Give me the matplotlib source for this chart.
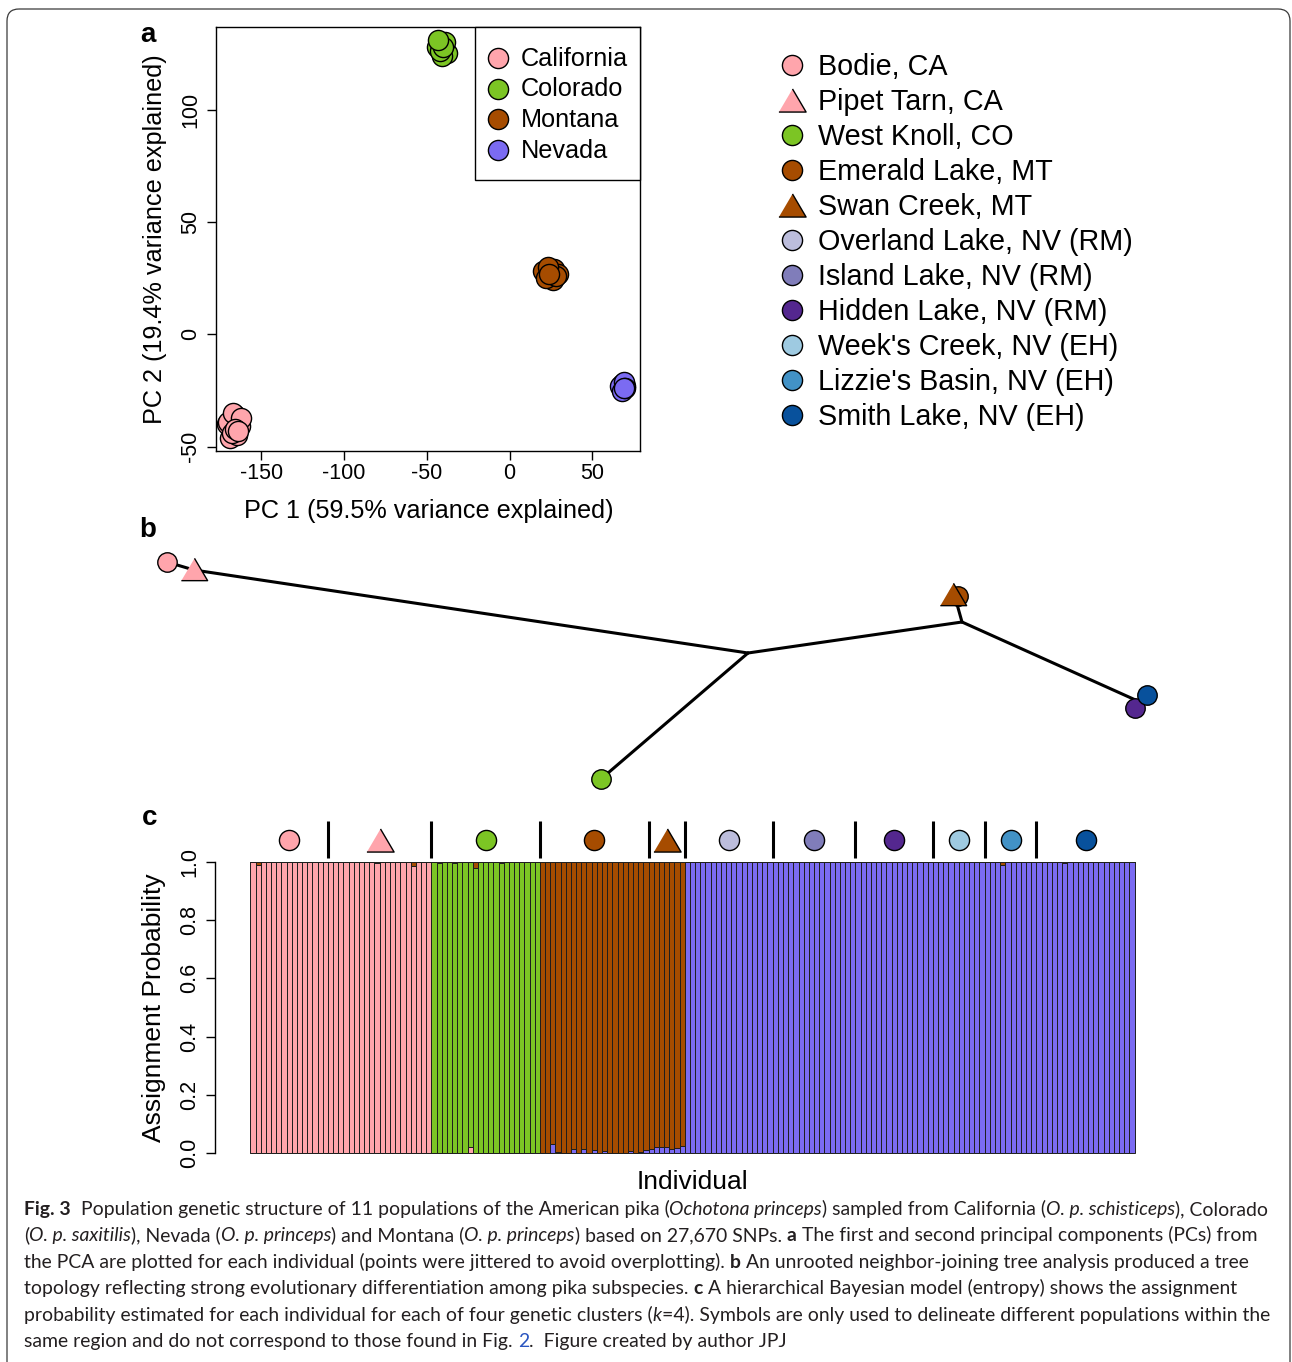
import matplotlib
matplotlib.use("Agg")
import matplotlib.pyplot as plt
from matplotlib.patches import FancyBboxPatch, Rectangle
from matplotlib.font_manager import FontProperties
import numpy as np

W, H = 1292, 1362
plt.rcParams['font.family'] = ['Liberation Sans', 'DejaVu Sans']
plt.rcParams['axes.unicode_minus'] = False

# ---------------- data ----------------
regions = ["California", "Colorado", "Montana", "Nevada"]
region_colors = ["#FFA5AC", "#7CC524", "#A64C00", "#7B6BF2"]

# PCA scores (points jittered in the original)
ca_pc1 = [-171, -169, -166, -163, -170, -165, -167, -162, -168, -166, -164]
ca_pc2 = [-40, -46, -36, -41, -39, -45, -35, -37, -44, -42, -43]
co_pc1 = [-38, -44, -41, -39, -42, -40, -43]
co_pc2 = [125, 128, 124, 130, 126, 128, 131]
mt_pc1 = [27, 20, 29, 26, 22, 28, 23, 24]
mt_pc2 = [29, 28, 27, 24, 25, 26, 30, 27]
nv_pc1 = [68, 70, 67, 69, 68, 70, 69]
nv_pc2 = [-22, -23, -23, -21, -25, -24, -24]
pc1_ticks = [-150, -100, -50, 0, 50]
pc2_ticks = [-50, 0, 50, 100]

pops = ["Bodie, CA", "Pipet Tarn, CA", "West Knoll, CO", "Emerald Lake, MT",
        "Swan Creek, MT", "Overland Lake, NV (RM)", "Island Lake, NV (RM)",
        "Hidden Lake, NV (RM)", "Week's Creek, NV (EH)", "Lizzie's Basin, NV (EH)",
        "Smith Lake, NV (EH)"]
pop_colors = ["#FFA5AC", "#FFA5AC", "#7CC524", "#A64C00", "#A64C00",
              "#BCBDDC", "#807DBA", "#54278F", "#9ECAE1", "#4292C6", "#08519C"]
pop_shapes = ["o", "^", "o", "o", "^", "o", "o", "o", "o", "o", "o"]
pop_sizes = [15, 20, 21, 21, 7, 17, 16, 15, 10, 10, 19]
pop_cluster = [0, 0, 1, 2, 2, 3, 3, 3, 3, 3, 3]

# small admixture slivers: (individual, cluster, proportion)
admix = [(1, 2, 0.01), (24, 2, 0.005), (31, 2, 0.015), (36, 2, 0.005),
         (39, 2, 0.005), (42, 0, 0.02), (43, 2, 0.02), (48, 2, 0.005),
         (58, 3, 0.03), (59, 1, 0.005), (62, 3, 0.015), (64, 3, 0.012),
         (66, 3, 0.01), (68, 3, 0.008), (73, 3, 0.008), (75, 3, 0.005),
         (76, 3, 0.01), (77, 3, 0.015), (78, 3, 0.02), (79, 3, 0.02),
         (80, 3, 0.02), (81, 3, 0.012), (82, 3, 0.018), (83, 3, 0.025),
         (145, 2, 0.01), (157, 2, 0.005)]
stack_order = [3, 0, 1, 2]
prob_ticks = [0.0, 0.2, 0.4, 0.6, 0.8, 1.0]

# NJ tree layout (panel b, page units)
node_names = ["bodie", "pipet", "A", "west", "B", "montana", "nevada"]
node_x = [167, 194, 748, 601, 962, 955, 1140]
node_y = [562, 570, 653, 779, 622, 597, 702]
tree_edges = [("bodie", "pipet"), ("pipet", "A"), ("A", "west"), ("A", "B"),
              ("B", "montana"), ("B", "nevada")]
tip_pop = [0, 1, 2, 3, 4, 7, 10]
tip_x = [167, 194, 601, 958, 953, 1135, 1147]
tip_y = [562, 569, 779, 596, 594, 708, 695]

caption = [
    [("Fig. 3", "b"), ("  Population genetic structure of 11 populations of the American pika (", "r"),
     ("Ochotona princeps", "i"), (") sampled from California (", "r"),
     ("O. p. schisticeps", "i"), ("), Colorado", "r")],
    [("(", "r"), ("O. p. saxitilis", "i"), ("), Nevada (", "r"), ("O. p. princeps", "i"),
     (") and Montana (", "r"), ("O. p. princeps", "i"), (") based on 27,670 SNPs. ", "r"),
     ("a", "b"), (" The first and second principal components (PCs) from", "r")],
    [("the PCA are plotted for each individual (points were jittered to avoid overplotting). ", "r"),
     ("b", "b"), (" An unrooted neighbor-joining tree analysis produced a tree", "r")],
    [("topology reflecting strong evolutionary differentiation among pika subspecies. ", "r"),
     ("c", "b"), (" A hierarchical Bayesian model (entropy) shows the assignment", "r")],
    [("probability estimated for each individual for each of four genetic clusters (", "r"),
     ("k", "i"), ("=4). Symbols are only used to delineate different populations within the", "r")],
    [("same region and do not correspond to those found in Fig. ", "r"), ("2", "link"),
     (".  Figure created by author JPJ", "r")],
]

# ---------------- helpers ----------------
def px_rect(x0, y0, x1, y1):
    return [x0 / W, 1 - y1 / H, (x1 - x0) / W, (y1 - y0) / H]

TRI = [(-1, -0.85), (1, -0.85), (0, 0.85)]

def mk(shape):
    return TRI if shape == "^" else "o"

def msize(shape, base=14.5):
    return base * 1.35 if shape == "^" else base

fig = plt.figure(figsize=(W / 100, H / 100), dpi=100)

# ---------------- panel a: PCA ----------------
axA = fig.add_axes(px_rect(216, 27, 640, 451))
for xs, ys, col in zip([ca_pc1, co_pc1, mt_pc1, nv_pc1], [ca_pc2, co_pc2, mt_pc2, nv_pc2],
                       region_colors):
    axA.plot(xs, ys, ls="none", marker="o", ms=14.5, mfc=col, mec="black", mew=1)
axA.set_xlim(-177.4, 78.8)
axA.set_ylim(-51.9, 136.7)
axA.set_xticks(pc1_ticks)
axA.set_yticks(pc2_ticks)
axA.tick_params(direction="out", length=6.5, width=1, labelsize=15.5)
axA.tick_params(axis="x", pad=2)
axA.tick_params(axis="y", pad=4, labelrotation=90)
for lab in axA.get_yticklabels():
    lab.set_va("center")
for sp in axA.spines.values():
    sp.set_linewidth(1)
axA.set_xlabel("PC 1 (59.5% variance explained)", fontsize=18.2)
axA.set_ylabel("PC 2 (19.4% variance explained)", fontsize=18.2)
axA.xaxis.set_label_coords(0.501, -0.113)
axA.yaxis.set_label_coords(-0.116, 0.5)

# ---------------- panel c: assignment bars ----------------
n = sum(pop_sizes)
props = np.zeros((4, n))
starts = np.cumsum([0] + pop_sizes)
for s, size, cl in zip(starts[:-1], pop_sizes, pop_cluster):
    props[cl, s:s + size] = 1.0
for i, cl, q in admix:
    main = props[:, i].argmax()
    props[cl, i] += q
    props[main, i] -= q

axC = fig.add_axes(px_rect(215, 850.4, 1170, 1164.6))
xpos = np.arange(n) + 0.5
bottom = np.zeros(n)
for cl in stack_order:
    axC.bar(xpos, props[cl], width=1, bottom=bottom, color=region_colors[cl],
            edgecolor="#1e1e1e", linewidth=0.7)
    bottom += props[cl]
axC.set_xlim(-0.04 * n, 1.04 * n)
axC.set_ylim(-0.04, 1.04)
for side in ["top", "right", "bottom"]:
    axC.spines[side].set_visible(False)
axC.spines["left"].set_bounds(0, 1)
axC.spines["left"].set_linewidth(1)
axC.set_xticks([])
axC.set_yticks(prob_ticks)
axC.set_yticklabels([f"{t:.1f}" for t in prob_ticks])
axC.tick_params(axis="y", direction="out", length=6.5, width=1, labelsize=15.5, pad=4,
                labelrotation=90)
for lab in axC.get_yticklabels():
    lab.set_va("center")
axC.set_ylabel("Assignment Probability", fontsize=19)
axC.yaxis.set_label_coords(-0.051, 0.5)
axC.set_xlabel("Individual", fontsize=19)
axC.xaxis.set_label_coords(0.5, -0.016)

# population symbols and separators above the bars
centers = starts[:-1] + np.array(pop_sizes) / 2
for cx, col, shp in zip(centers, pop_colors, pop_shapes):
    axC.plot(cx, 1.0756, ls="none", marker=mk(shp), ms=msize(shp), mfc=col,
             mec="black", mew=1, clip_on=False)
axC.vlines(starts[1:-1], 1.015, 1.141, colors="black", lw=2.2, clip_on=False)

# ---------------- overlay: legend, tree, labels, caption ----------------
ov = fig.add_axes([0, 0, 1, 1])
ov.set_xlim(0, W)
ov.set_ylim(H, 0)
ov.axis("off")

ov.add_patch(FancyBboxPatch((7, 9), 1283, 1370, boxstyle="round,pad=0,rounding_size=12",
                            fc="none", ec="#3a3a3a", lw=0.9))

# legend inside panel a
ov.add_patch(Rectangle((475, 27), 165, 153, fc="white", ec="black", lw=1))
for k, (name, col) in enumerate(zip(regions, region_colors)):
    yy = 58 + 30.5 * k
    ov.plot(498, yy, marker="o", ms=14.5, mfc=col, mec="black", mew=1)
    ov.text(521, yy + 1, name, fontsize=18.2, va="center", ha="left")

# population legend
for k, (name, col, shp) in enumerate(zip(pops, pop_colors, pop_shapes)):
    yy = 65 + 35 * k
    ov.plot(792, yy, marker=mk(shp), ms=msize(shp), mfc=col, mec="black", mew=1)
    ov.text(818, yy + 2, name, fontsize=20.7, va="center", ha="left")

# tree
for a, b in tree_edges:
    ia, ib = node_names.index(a), node_names.index(b)
    ov.plot([node_x[ia], node_x[ib]], [node_y[ia], node_y[ib]], color="black", lw=2.2,
            solid_capstyle="round")
for p, tx, ty in zip(tip_pop, tip_x, tip_y):
    shp = pop_shapes[p]
    ov.plot(tx, ty, marker=mk(shp), ms=msize(shp, 14), mfc=pop_colors[p], mec="black", mew=1)

# panel letters
for letter, lx, ly in [("a", 148, 35), ("b", 148, 530), ("c", 150, 818)]:
    ov.text(lx, ly, letter, fontsize=20, fontweight="bold", ha="center", va="center")

# caption
rend = fig.canvas.get_renderer()

def fprop(style, size):
    if style == "b":
        return FontProperties(family="Lato", weight="bold", size=size)
    if style == "i":
        return FontProperties(family="Lato", style="italic", size=size)
    return FontProperties(family="Lato", size=size)

def seg_w(txt, prop):
    w2 = rend.get_text_width_height_descent("x" + txt + "x", prop, ismath=False)[0]
    w0 = rend.get_text_width_height_descent("xx", prop, ismath=False)[0]
    return w2 - w0

w10 = sum(seg_w(t, fprop(s, 10)) for t, s in caption[0])
cap_size = 10 * 1244 / w10
for k, line in enumerate(caption):
    x = 24
    yb = 1215 + 26.4 * k
    for txt, s in line:
        prop = fprop(s, cap_size)
        col = "#2a55c0" if s == "link" else "#231f20"
        ov.text(x, yb, txt, fontproperties=prop, color=col, ha="left", va="baseline")
        x += seg_w(txt, prop)

fig.savefig("out.png", dpi=100)
